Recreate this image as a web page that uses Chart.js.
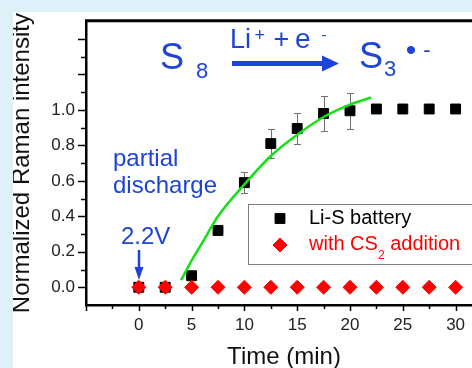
<!DOCTYPE html>
<html>
<head>
<meta charset="utf-8">
<script src="https://cdn.jsdelivr.net/npm/chart.js@4.4.1/dist/chart.umd.min.js"></script>
<style>
  html, body { margin: 0; padding: 0; }
  body { width: 472px; height: 368px; overflow: hidden; position: relative; background: #fff; }
  #wrap { position: absolute; left: 0; top: 0; width: 490px; height: 368px; }
  .strip { position: absolute; background: #def0f8; z-index: 2; }
</style>
</head>
<body>
<div id="wrap"><canvas id="chart" width="490" height="368"></canvas></div>
<div class="strip" style="left:0;top:0;width:472px;height:12px"></div>
<div class="strip" style="left:0;top:0;width:13px;height:368px"></div>
<script>
// sampling times (min)
const timeMin = [0, 2.5, 5, 7.5, 10, 12.5, 15, 17.5, 20, 22.5, 25, 27.5, 30];
// Li-S battery, normalized S3•- band intensity and its error
const liS = [0, 0, 0.065, 0.32, 0.59, 0.81, 0.895, 0.98, 0.995, 1.005, 1.005, 1.005, 1.005];
const liSErr = [0, 0, 0, 0, 0.058, 0.082, 0.09, 0.1, 0.1, 0, 0, 0, 0];
// with CS2 addition
const cs2 = [0, 0, 0, 0, 0, 0, 0, 0, 0, 0, 0, 0, 0];
// green fit curve
const fitTime = [4, 5, 6, 7.5, 10, 12.5, 15, 17.5, 20, 22];
const fitValue = [0.04, 0.15, 0.25, 0.40, 0.58, 0.74, 0.86, 0.96, 1.03, 1.07];
// axis ticks
const xTicks = [-5, 0, 5, 10, 15, 20, 25, 30];
const yTicks = [-0.1, 0, 0.2, 0.4, 0.6, 0.8, 1.0, 1.2, 1.4];

const FONT = '"Liberation Sans", Arial, sans-serif';
const BLUE = '#1c44d8';

function txt(ctx, s, x, y, size, color) {
    ctx.font = size + 'px ' + FONT;
    ctx.fillStyle = color;
    ctx.fillText(s, x, y);
    return x + ctx.measureText(s).width;
}

const extras = {
    id: 'extras',
    beforeDatasetsDraw(chart) {
        const { ctx, scales: { x, y } } = chart;
        ctx.save();
        ctx.strokeStyle = '#707070';
        ctx.lineWidth = 1;
        timeMin.forEach((t, i) => {
            const e = liSErr[i];
            if (!e) return;
            const px = Math.round(x.getPixelForValue(t)) + 0.5;
            const y1 = Math.round(y.getPixelForValue(liS[i] + e)) + 0.5;
            const y2 = Math.round(y.getPixelForValue(liS[i] - e)) + 0.5;
            ctx.beginPath();
            ctx.moveTo(px, y1); ctx.lineTo(px, y2);
            ctx.moveTo(px - 3.5, y1); ctx.lineTo(px + 3.5, y1);
            ctx.moveTo(px - 3.5, y2); ctx.lineTo(px + 3.5, y2);
            ctx.stroke();
        });
        ctx.restore();
    },
    afterDraw(chart) {
        const { ctx, chartArea: a, scales: { x, y } } = chart;
        ctx.save();

        // frame top
        ctx.strokeStyle = '#000';
        ctx.lineWidth = 3;
        ctx.beginPath();
        ctx.moveTo(a.left - 1, a.top - 0.5);
        ctx.lineTo(a.right, a.top - 0.5);
        ctx.stroke();

        // tick marks, major and minor, pointing outward
        ctx.lineWidth = 1.5;
        ctx.beginPath();
        for (let k = 0; k <= 14; k++) {
            const py = Math.round(y.getPixelForValue(k / 10)) + 0.5;
            const len = k % 2 === 0 ? 7 : 4;
            ctx.moveTo(a.left - 1, py);
            ctx.lineTo(a.left - 1 - len, py);
        }
        for (let k = -2; k <= 13; k++) {
            const px = Math.round(x.getPixelForValue(k * 2.5)) + 0.5;
            const len = k % 2 === 0 ? 6 : 4;
            ctx.moveTo(px, a.bottom);
            ctx.lineTo(px, a.bottom + len);
        }
        ctx.stroke();

        // reaction scheme
        ctx.textAlign = 'left';
        ctx.textBaseline = 'alphabetic';
        txt(ctx, 'S', 160, 69, 36, BLUE);
        txt(ctx, '8', 196, 78, 22, BLUE);
        txt(ctx, 'Li', 230, 48, 27, BLUE);
        txt(ctx, '+', 254.5, 41, 18, BLUE);
        txt(ctx, '+', 273.5, 48, 27, BLUE);
        txt(ctx, 'e', 295, 48, 28, BLUE);
        txt(ctx, '-', 321.5, 40, 15, BLUE);
        ctx.strokeStyle = BLUE;
        ctx.fillStyle = BLUE;
        ctx.lineWidth = 5;
        ctx.beginPath();
        ctx.moveTo(232, 63.5); ctx.lineTo(326, 63.5);
        ctx.stroke();
        ctx.beginPath();
        ctx.moveTo(322, 55.5); ctx.lineTo(339, 63.5); ctx.lineTo(322, 71.5);
        ctx.closePath(); ctx.fill();
        txt(ctx, 'S', 359, 68, 36, BLUE);
        txt(ctx, '3', 384, 76, 22, BLUE);
        ctx.textAlign = 'center';
        txt(ctx, '•', 411, 60, 30, BLUE);
        txt(ctx, '-', 427, 57, 22, BLUE);
        ctx.textAlign = 'left';

        txt(ctx, 'partial', 113, 166, 24, BLUE);
        txt(ctx, 'discharge', 113, 193, 24, BLUE);
        txt(ctx, '2.2V', 121, 244, 24, BLUE);
        const ax = Math.round(x.getPixelForValue(0));
        ctx.lineWidth = 2.5;
        ctx.beginPath();
        ctx.moveTo(ax, 250); ctx.lineTo(ax, 270);
        ctx.stroke();
        ctx.beginPath();
        ctx.moveTo(ax - 4.5, 267); ctx.lineTo(ax, 280); ctx.lineTo(ax + 4.5, 267);
        ctx.closePath(); ctx.fill();

        // legend box
        ctx.strokeStyle = '#808080';
        ctx.lineWidth = 1;
        ctx.strokeRect(248.5, 204.5, 232, 60);
        ctx.fillStyle = '#000'; ctx.strokeStyle = '#000';
        Chart.helpers.drawPoint(ctx, { pointStyle: 'rect', radius: 7, borderWidth: 1, rotation: 0 }, 280, 218.5);
        ctx.fillStyle = '#ff0000'; ctx.strokeStyle = '#ff0000';
        Chart.helpers.drawPoint(ctx, { pointStyle: 'rectRot', radius: 7, borderWidth: 1, rotation: 0 }, 280, 245);
        txt(ctx, 'Li-S battery', 309, 224, 20, '#000');
        let cx = txt(ctx, 'with CS', 309, 250, 20, '#ff0000');
        cx = txt(ctx, '2', cx, 259, 12, '#ff0000');
        txt(ctx, ' addition', cx, 250, 20, '#ff0000');

        ctx.restore();
    }
};

new Chart(document.getElementById('chart'), {
    type: 'scatter',
    data: {
        datasets: [
            {
                label: 'with CS2 addition',
                data: timeMin.map((t, i) => ({ x: t, y: cs2[i] })),
                pointStyle: 'rectRot',
                pointRadius: 7,
                pointBorderWidth: 1,
                backgroundColor: '#ff0000',
                borderColor: '#ff0000',
                order: 0
            },
            {
                label: 'fit',
                data: fitTime.map((t, i) => ({ x: t, y: fitValue[i] })),
                showLine: true,
                pointRadius: 0,
                borderColor: '#16e016',
                borderWidth: 2.5,
                cubicInterpolationMode: 'monotone',
                order: 1
            },
            {
                label: 'Li-S battery',
                data: timeMin.map((t, i) => ({ x: t, y: liS[i] })),
                pointStyle: 'rect',
                pointRadius: 7,
                pointBorderWidth: 1,
                backgroundColor: '#000',
                borderColor: '#000',
                order: 2
            }
        ]
    },
    options: {
        responsive: false,
        animation: false,
        layout: { padding: { top: 14, right: 7, left: 0, bottom: 0 } },
        plugins: { legend: { display: false }, tooltip: { enabled: false } },
        scales: {
            x: {
                type: 'linear',
                min: -5,
                max: 32.5,
                afterBuildTicks: s => { s.ticks = xTicks.map(v => ({ value: v })); },
                afterFit: s => { s.height = 63; },
                grid: { display: false, drawTicks: false },
                border: { display: true, color: '#000', width: 2.5 },
                ticks: {
                    padding: 10,
                    color: '#222',
                    font: { family: FONT, size: 17 },
                    callback: v => (v >= 0 && v <= 30 ? String(v) : '')
                },
                title: {
                    display: true,
                    text: 'Time (min)',
                    color: '#111',
                    font: { family: FONT, size: 24, lineHeight: 0.9 },
                    padding: { top: 0, bottom: 0 }
                }
            },
            y: {
                min: -0.1,
                max: 1.5,
                afterBuildTicks: s => { s.ticks = yTicks.map(v => ({ value: v })); },
                afterFit: s => { s.width = 86; },
                grid: { display: false, drawTicks: false },
                border: { display: true, color: '#000', width: 2.5 },
                ticks: {
                    padding: 11,
                    color: '#222',
                    font: { family: FONT, size: 17 },
                    callback: v => (v >= -0.001 && v <= 1.001 ? v.toFixed(1) : '')
                },
                title: {
                    display: true,
                    text: 'Normalized Raman intensity',
                    color: '#111',
                    font: { family: FONT, size: 24, lineHeight: 1.2 },
                    padding: { top: 8, bottom: 0 }
                }
            }
        }
    },
    plugins: [extras]
});
</script>
</body>
</html>
